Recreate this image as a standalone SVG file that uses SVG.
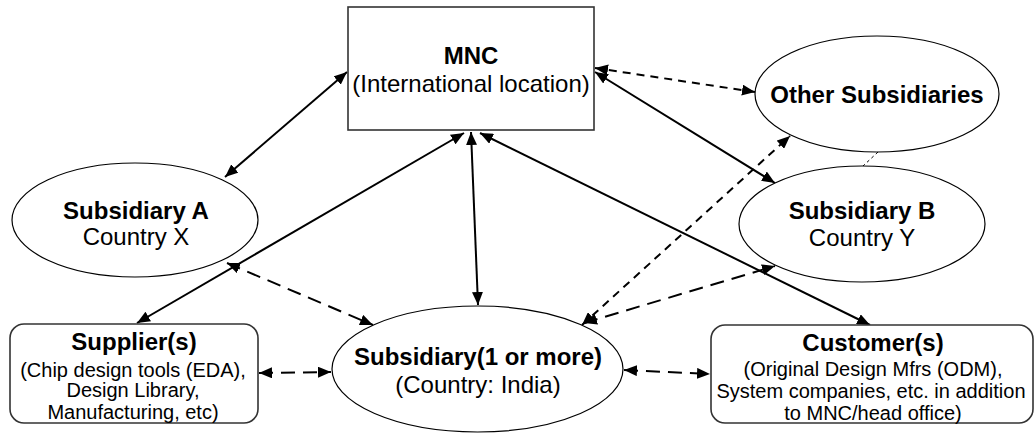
<svg xmlns="http://www.w3.org/2000/svg" width="1035" height="435" viewBox="0 0 1035 435">
  <style>
    .box { fill: #fff; stroke: #333; stroke-width: 1.6; }
    .oval { fill: #fff; stroke: #000; stroke-width: 1.2; }
    .t { font-family: "Liberation Sans", Arial, sans-serif; fill: #000; text-anchor: middle; }
    .big { font-size: 24px; }
    .small { font-size: 20px; }
    .b { font-weight: bold; }
    .link { fill: none; stroke: #000; stroke-width: 2; marker-start: url(#head); marker-end: url(#head); }
    .dashA { stroke-dasharray: 8 6; }
    .dashB { stroke-dasharray: 14 8; }
    .dotted { fill: none; stroke: #000; stroke-width: 1; stroke-dasharray: 3 3; }
  </style>
  <defs>
    <marker id="head" markerUnits="userSpaceOnUse" markerWidth="13" markerHeight="11" refX="13" refY="5.5" orient="auto-start-reverse">
      <path d="M0,0 L13,5.5 L0,11 z" fill="#000"/>
    </marker>
  </defs>
  <rect width="1035" height="435" fill="#fff"/>

  <g id="connectors">
    <!-- MNC to subsidiaries -->
    <line class="link" x1="347" y1="72" x2="225" y2="177"/>
    <line class="link dashA" x1="595" y1="68" x2="755" y2="92"/>
    <line class="link" x1="595" y1="72" x2="775" y2="183"/>
    <line class="link" x1="464" y1="133" x2="137" y2="323"/>
    <line class="link" x1="471" y1="132" x2="478" y2="305"/>
    <line class="link" x1="480" y1="133" x2="870" y2="325"/>
    <!-- peer links of the Indian subsidiary -->
    <line class="link dashB" x1="227" y1="263" x2="373" y2="325"/>
    <line class="link dashB" x1="259" y1="373" x2="331" y2="372"/>
    <line class="link dashB" x1="624" y1="370" x2="710" y2="374"/>
    <line class="link dashA" x1="582" y1="325" x2="790" y2="136"/>
    <line class="link dashB" x1="584" y1="323" x2="775" y2="266"/>
    <!-- B to other subsidiaries -->
    <line class="dotted" x1="878" y1="152" x2="863" y2="166"/>
  </g>

  <g id="mnc">
    <rect class="box" x="348" y="7" width="246" height="123"/>
    <text class="t big b" x="471" y="64">MNC</text>
    <text class="t big" x="471" y="92">(International location)</text>
  </g>

  <g id="other-subsidiaries">
    <ellipse class="oval" cx="877" cy="94" rx="122" ry="58"/>
    <text class="t big b" x="877" y="103">Other Subsidiaries</text>
  </g>

  <g id="subsidiary-a">
    <ellipse class="oval" cx="135" cy="220" rx="123" ry="57"/>
    <text class="t big b" x="136" y="219">Subsidiary A</text>
    <text class="t big" x="136" y="245">Country X</text>
  </g>

  <g id="subsidiary-b">
    <ellipse class="oval" cx="862" cy="224" rx="123" ry="58"/>
    <text class="t big b" x="862" y="219">Subsidiary B</text>
    <text class="t big" x="862" y="246">Country Y</text>
  </g>

  <g id="subsidiary-india">
    <ellipse class="oval" cx="477.5" cy="369" rx="145.5" ry="63"/>
    <text class="t big b" x="478" y="365">Subsidiary(1 or more)</text>
    <text class="t big" x="478" y="393">(Country: India)</text>
  </g>

  <g id="suppliers">
    <rect class="box" x="10" y="324" width="248" height="99" rx="14" ry="14"/>
    <text class="t big b" x="134" y="350">Supplier(s)</text>
    <text class="t small" x="133" y="377">(Chip design tools (EDA),</text>
    <text class="t small" x="133" y="397">Design Library,</text>
    <text class="t small" x="133" y="419">Manufacturing, etc)</text>
  </g>

  <g id="customers">
    <rect class="box" x="711" y="325" width="322" height="98" rx="14" ry="14"/>
    <text class="t big b" x="873" y="351">Customer(s)</text>
    <text class="t small" x="873" y="376">(Original Design Mfrs (ODM),</text>
    <text class="t small" x="871" y="398">System companies, etc. in addition</text>
    <text class="t small" x="873" y="420">to MNC/head office)</text>
  </g>
</svg>
